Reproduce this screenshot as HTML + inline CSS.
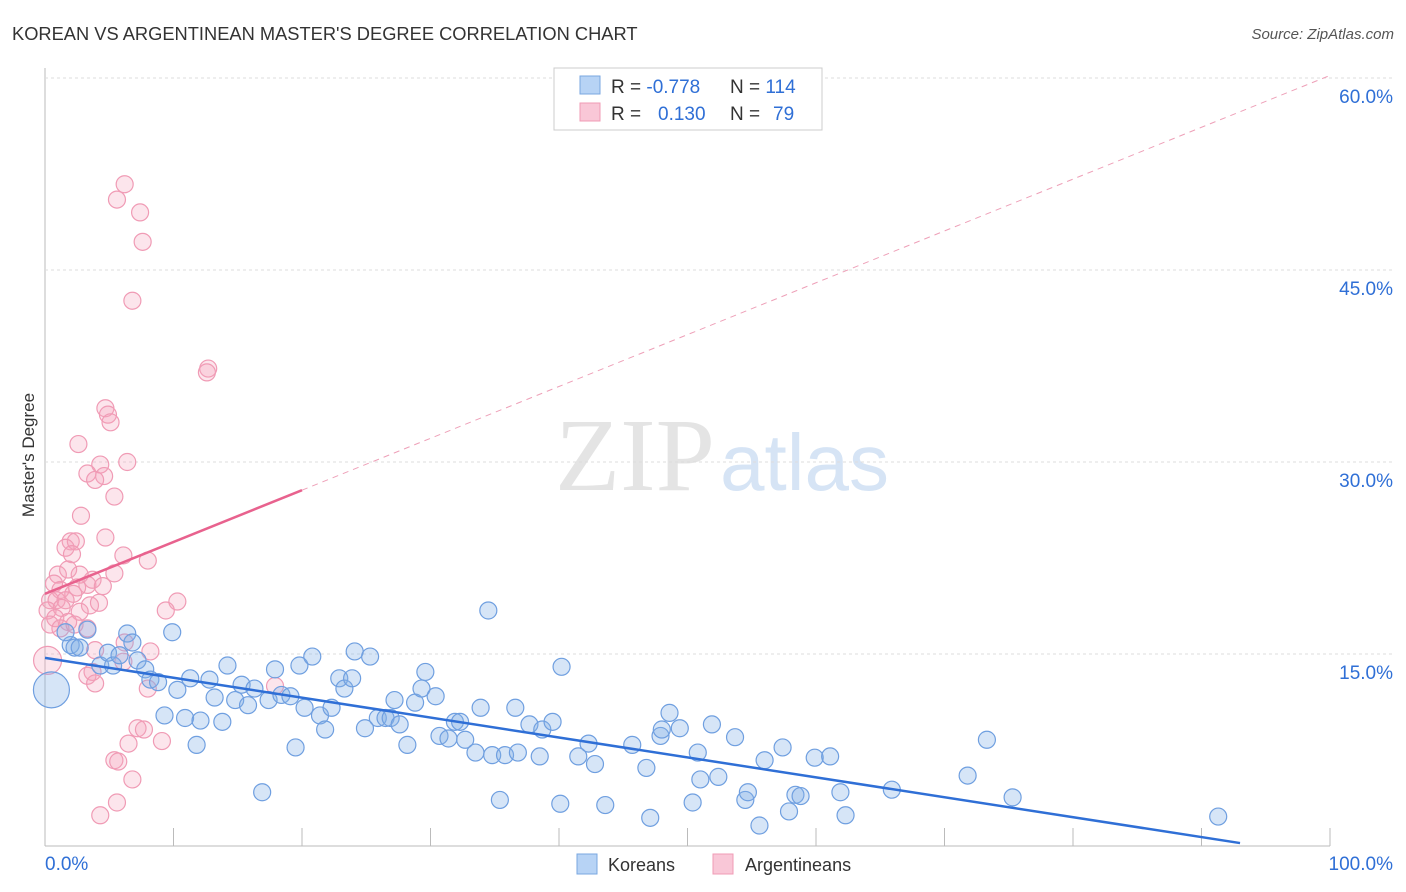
<!DOCTYPE html>
<html><head><meta charset="utf-8">
<style>
body{margin:0;background:#fff;font-family:"Liberation Sans",sans-serif;}
svg{display:block}
</style></head>
<body>
<svg id="chart" width="1406" height="892">
<text x="12" y="40" font-size="18.3" fill="#333">KOREAN VS ARGENTINEAN MASTER'S DEGREE CORRELATION CHART</text>
<text x="1394" y="39" font-size="15" fill="#555" text-anchor="end" font-style="italic">Source: ZipAtlas.com</text>
<text x="34" y="455" font-size="17" fill="#333" text-anchor="middle" transform="rotate(-90 34 455)">Master's Degree</text>
<text x="555" y="490" font-size="104" fill="#e4e4e4" textLength="160" lengthAdjust="spacingAndGlyphs" font-family="Liberation Serif,serif">ZIP</text>
<text x="720" y="490" font-size="80" fill="#d6e4f5">atlas</text>
<g id="grid"></g><g id="pts"></g><g id="lines"></g>
<g>
<rect x="554" y="68" width="268" height="62" fill="#fff" stroke="#ccc"/>
<rect x="580" y="76" width="20" height="18" fill="#b7d3f5" stroke="#7aa7e0"/>
<rect x="580" y="103" width="20" height="18" fill="#f9c7d7" stroke="#f09bb5"/>
<text x="611" y="93" font-size="19" fill="#333">R = <tspan fill="#2f6fd6">-0.778</tspan></text>
<text x="730" y="93" font-size="19" fill="#333">N = <tspan fill="#2f6fd6">114</tspan></text>
<text x="611" y="120" font-size="19" fill="#333">R = <tspan fill="#2f6fd6" x="658">0.130</tspan></text>
<text x="730" y="120" font-size="19" fill="#333">N = <tspan fill="#2f6fd6" x="773">79</tspan></text>
</g>
<g>
<rect x="577" y="854" width="20" height="20" fill="#b7d3f5" stroke="#7aa7e0"/>
<text x="608" y="871" font-size="18" fill="#333">Koreans</text>
<rect x="713" y="854" width="20" height="20" fill="#f9c7d7" stroke="#f09bb5"/>
<text x="745" y="871" font-size="18" fill="#333">Argentineans</text>
</g>
</svg>
<script>
const yTicks=[15,30,45,60];
const xTickLabels=["0.0%","100.0%"];
const koreansX=[0.5,2,2.3,2.7,1.6,3.3,4.3,4.9,5.3,5.8,6.4,6.8,7.2,7.8,8.2,8.8,9.3,9.9,10.3,10.9,11.3,11.8,12.1,12.8,13.2,13.8,14.2,14.8,15.3,15.8,16.3,16.9,17.4,17.9,18.4,19.1,19.5,19.8,20.2,20.8,21.4,21.8,22.3,22.9,23.3,23.9,24.1,24.9,25.3,25.9,26.5,26.9,27.2,27.6,28.2,28.8,29.3,29.6,30.4,30.7,31.4,31.9,32.3,32.7,33.5,33.9,34.5,34.8,35.4,35.8,36.6,36.8,37.7,38.5,38.7,39.5,40.1,40.2,41.5,42.3,42.8,43.6,45.7,46.8,47.1,47.9,48.0,48.6,49.4,50.4,50.8,51.0,51.9,52.4,53.7,54.5,54.7,55.6,56.0,57.4,57.9,58.4,58.8,59.9,61.1,61.9,62.3,65.9,71.8,73.3,75.3,91.3];
const koreansY=[12.2,15.7,15.5,15.5,16.7,16.9,14.1,15.1,14.1,14.9,16.6,15.9,14.5,13.8,13.0,12.8,10.2,16.7,12.2,10.0,13.1,7.9,9.8,13.0,11.6,9.7,14.1,11.4,12.6,11.0,12.3,4.2,11.4,13.8,11.8,11.7,7.7,14.1,10.8,14.8,10.2,9.1,10.8,13.1,12.3,13.1,15.2,9.2,14.8,10.0,10.0,10.0,11.4,9.5,7.9,11.2,12.3,13.6,11.7,8.6,8.4,9.7,9.7,8.3,7.3,10.8,18.4,7.1,3.6,7.1,10.8,7.3,9.5,7.0,9.1,9.7,3.3,14.0,7.0,8.0,6.4,3.2,7.9,6.1,2.2,8.6,9.1,10.4,9.2,3.4,7.3,5.2,9.5,5.4,8.5,3.6,4.2,1.6,6.7,7.7,2.7,4.0,3.9,6.9,7.0,4.2,2.4,4.4,5.5,8.3,3.8,2.3];
const argX=[6.2,5.6,7.4,7.6,6.8,12.7,12.6,4.7,4.9,5.1,2.6,6.4,4.3,3.3,4.6,3.9,5.4,2.8,4.7,2.0,2.4,1.6,6.1,8.0,2.1,1.0,1.8,2.7,5.4,3.7,0.7,3.3,2.5,4.5,1.2,2.2,0.4,0.9,1.6,3.5,4.2,10.3,9.4,0.2,1.3,2.7,0.8,1.8,0.4,1.2,2.3,3.3,0.2,6.2,3.9,8.2,6.1,3.7,3.3,3.9,8.0,17.9,7.2,7.7,9.1,6.5,5.4,5.7,6.8,5.6,4.3];
const argY=[51.7,50.5,49.5,47.2,42.6,37.3,37.0,34.2,33.7,33.1,31.4,30.0,29.8,29.1,28.9,28.6,27.3,25.8,24.1,23.8,23.8,23.3,22.7,22.3,22.8,21.2,21.6,21.2,21.3,20.8,20.5,20.4,20.2,20.3,20.0,19.7,19.2,19.2,19.2,18.8,19.0,19.1,18.4,18.4,18.6,18.3,17.8,17.5,17.3,17.0,17.3,17.0,14.5,15.9,15.3,15.2,14.4,13.6,13.3,12.7,12.3,12.5,9.2,9.1,8.2,8.0,6.7,6.6,5.2,3.4,2.4];
const koreanTrend=[14.7,-0.1556,93];
const argTrend=[19.7,0.405,20];

const NS="http://www.w3.org/2000/svg";
const X=v=>45+v*12.85, Y=v=>846-v*12.8;
function mk(tag,a,parent){const e=document.createElementNS(NS,tag);for(const k in a)e.setAttribute(k,a[k]);parent.appendChild(e);return e;}
const grid=document.getElementById('grid'),pts=document.getElementById('pts'),lines=document.getElementById('lines');
mk('line',{x1:45,y1:68,x2:45,y2:846,stroke:'#bbb'},grid);
mk('line',{x1:45,y1:846,x2:1330,y2:846,stroke:'#bbb'},grid);
for(let i=0;i<=10;i++){const t=mk('line',{x1:X(i*10),y1:828,x2:X(i*10),y2:846,stroke:'#bbb'},grid);

}
yTicks.forEach(v=>{const l=mk('line',{x1:45,y1:Y(v),x2:1394,y2:Y(v),stroke:'#ddd','stroke-dasharray':'3,3'},grid);


const t=mk('text',{x:1393,y:Y(v)+25,'font-size':19,fill:'#2f6fd6','text-anchor':'end'},grid);t.textContent=v.toFixed(1)+'%';

});
const xl0=mk('text',{x:45,y:870,'font-size':19,fill:'#2f6fd6'},grid);xl0.textContent=xTickLabels[0];


const xl1=mk('text',{x:1393,y:870,'font-size':19,fill:'#2f6fd6','text-anchor':'end'},grid);xl1.textContent=xTickLabels[1];


argX.forEach((x,i)=>{const c=mk('circle',{cx:X(x),cy:Y(argY[i]),r:i===52?14:8.5,fill:'rgba(244,160,188,0.28)',stroke:'#f09bb5','stroke-width':1.2},pts);

});
koreansX.forEach((x,i)=>{const c=mk('circle',{cx:X(x),cy:Y(koreansY[i]),r:i===0?18:8.5,fill:'rgba(130,175,232,0.33)',stroke:'#6f9fe0','stroke-width':1.2},pts);

});
const kl=mk('line',{x1:X(0),y1:Y(koreanTrend[0]),x2:X(koreanTrend[2]),y2:Y(koreanTrend[0]+koreanTrend[1]*koreanTrend[2]),stroke:'#2f6fd6','stroke-width':2.5},lines);


const al=mk('line',{x1:X(0),y1:Y(argTrend[0]),x2:X(argTrend[2]),y2:Y(argTrend[0]+argTrend[1]*argTrend[2]),stroke:'#e8628e','stroke-width':2.5},lines);


const ad=mk('line',{x1:X(argTrend[2]),y1:Y(argTrend[0]+argTrend[1]*argTrend[2]),x2:X(100),y2:Y(argTrend[0]+argTrend[1]*100),stroke:'#eea0b8','stroke-width':1,'stroke-dasharray':'6,5'},lines);


</script>
</body></html>
